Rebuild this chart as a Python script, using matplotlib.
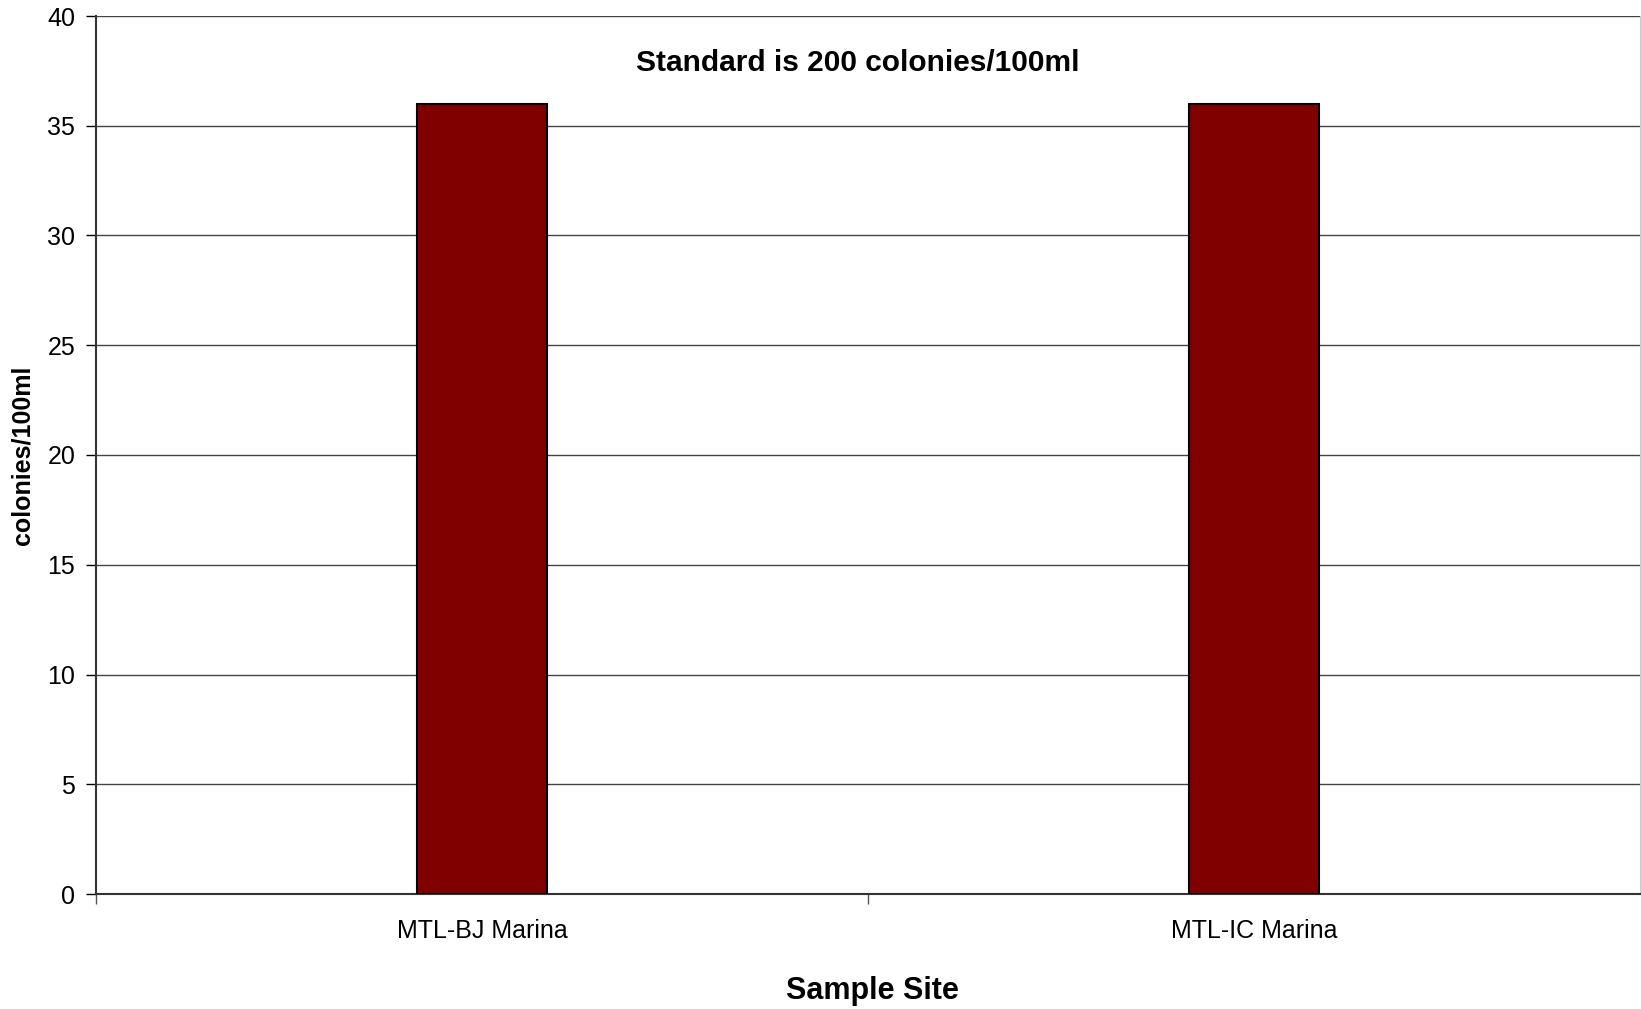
import matplotlib
matplotlib.use("Agg")
import matplotlib.pyplot as plt
import numpy as np

# Sample sites and their colony counts
sites = ["MTL-BJ Marina", "MTL-IC Marina"]
colonies = [36, 36]
y_ticks = [0, 5, 10, 15, 20, 25, 30, 35, 40]

plt.rcParams["font.family"] = ["Liberation Sans", "DejaVu Sans"]

fig = plt.figure(figsize=(16.41, 10.09), dpi=100)
W, H = 1641, 1009
left, right, top, bottom = 96, 1640, 16, 894
ax = fig.add_axes([left / W, 1 - bottom / H, (right - left) / W, (bottom - top) / H])

x = np.arange(len(sites))
ax.bar(x, colonies, width=0.168, color="#800000", edgecolor="black", linewidth=1.5, zorder=3)

ax.set_xlim(-0.5, len(sites) - 0.5)
ax.set_ylim(0, 40)
ax.set_yticks(y_ticks)
ax.tick_params(axis="y", labelsize=18, length=7, width=1, color="black", pad=8)

# Category labels at centers, tick marks at category boundaries
ax.set_xticks(x)
ax.set_xticklabels(sites, fontsize=18)
ax.tick_params(axis="x", which="major", length=0, pad=18)
ax.set_xticks(np.arange(-0.5, len(sites) - 1, 1.0), minor=True)
ax.tick_params(axis="x", which="minor", length=7, width=1, color="#555555")

ax.yaxis.grid(True, color="#444444", linewidth=1.0, zorder=0)
ax.set_axisbelow(True)

ax.spines["top"].set_visible(False)
ax.spines["right"].set_color("#cccccc")
ax.spines["right"].set_linewidth(0.8)
ax.spines["left"].set_color("#333333")
ax.spines["left"].set_linewidth(1.5)
ax.spines["bottom"].set_color("#333333")
ax.spines["bottom"].set_linewidth(1.5)

ax.set_ylabel("colonies/100ml", fontsize=18, fontweight="bold", va="center")
ax.yaxis.set_label_coords(-0.0473, 0.5)
ax.set_xlabel("Sample Site", fontsize=22, fontweight="bold", va="center")
ax.xaxis.set_label_coords(0.5026, -0.1104)

ax.text(0.4935, 0.9464, "Standard is 200 colonies/100ml", transform=ax.transAxes,
        ha="center", va="center", fontsize=21.5, fontweight="bold")

fig.savefig("out.png", dpi=100)
